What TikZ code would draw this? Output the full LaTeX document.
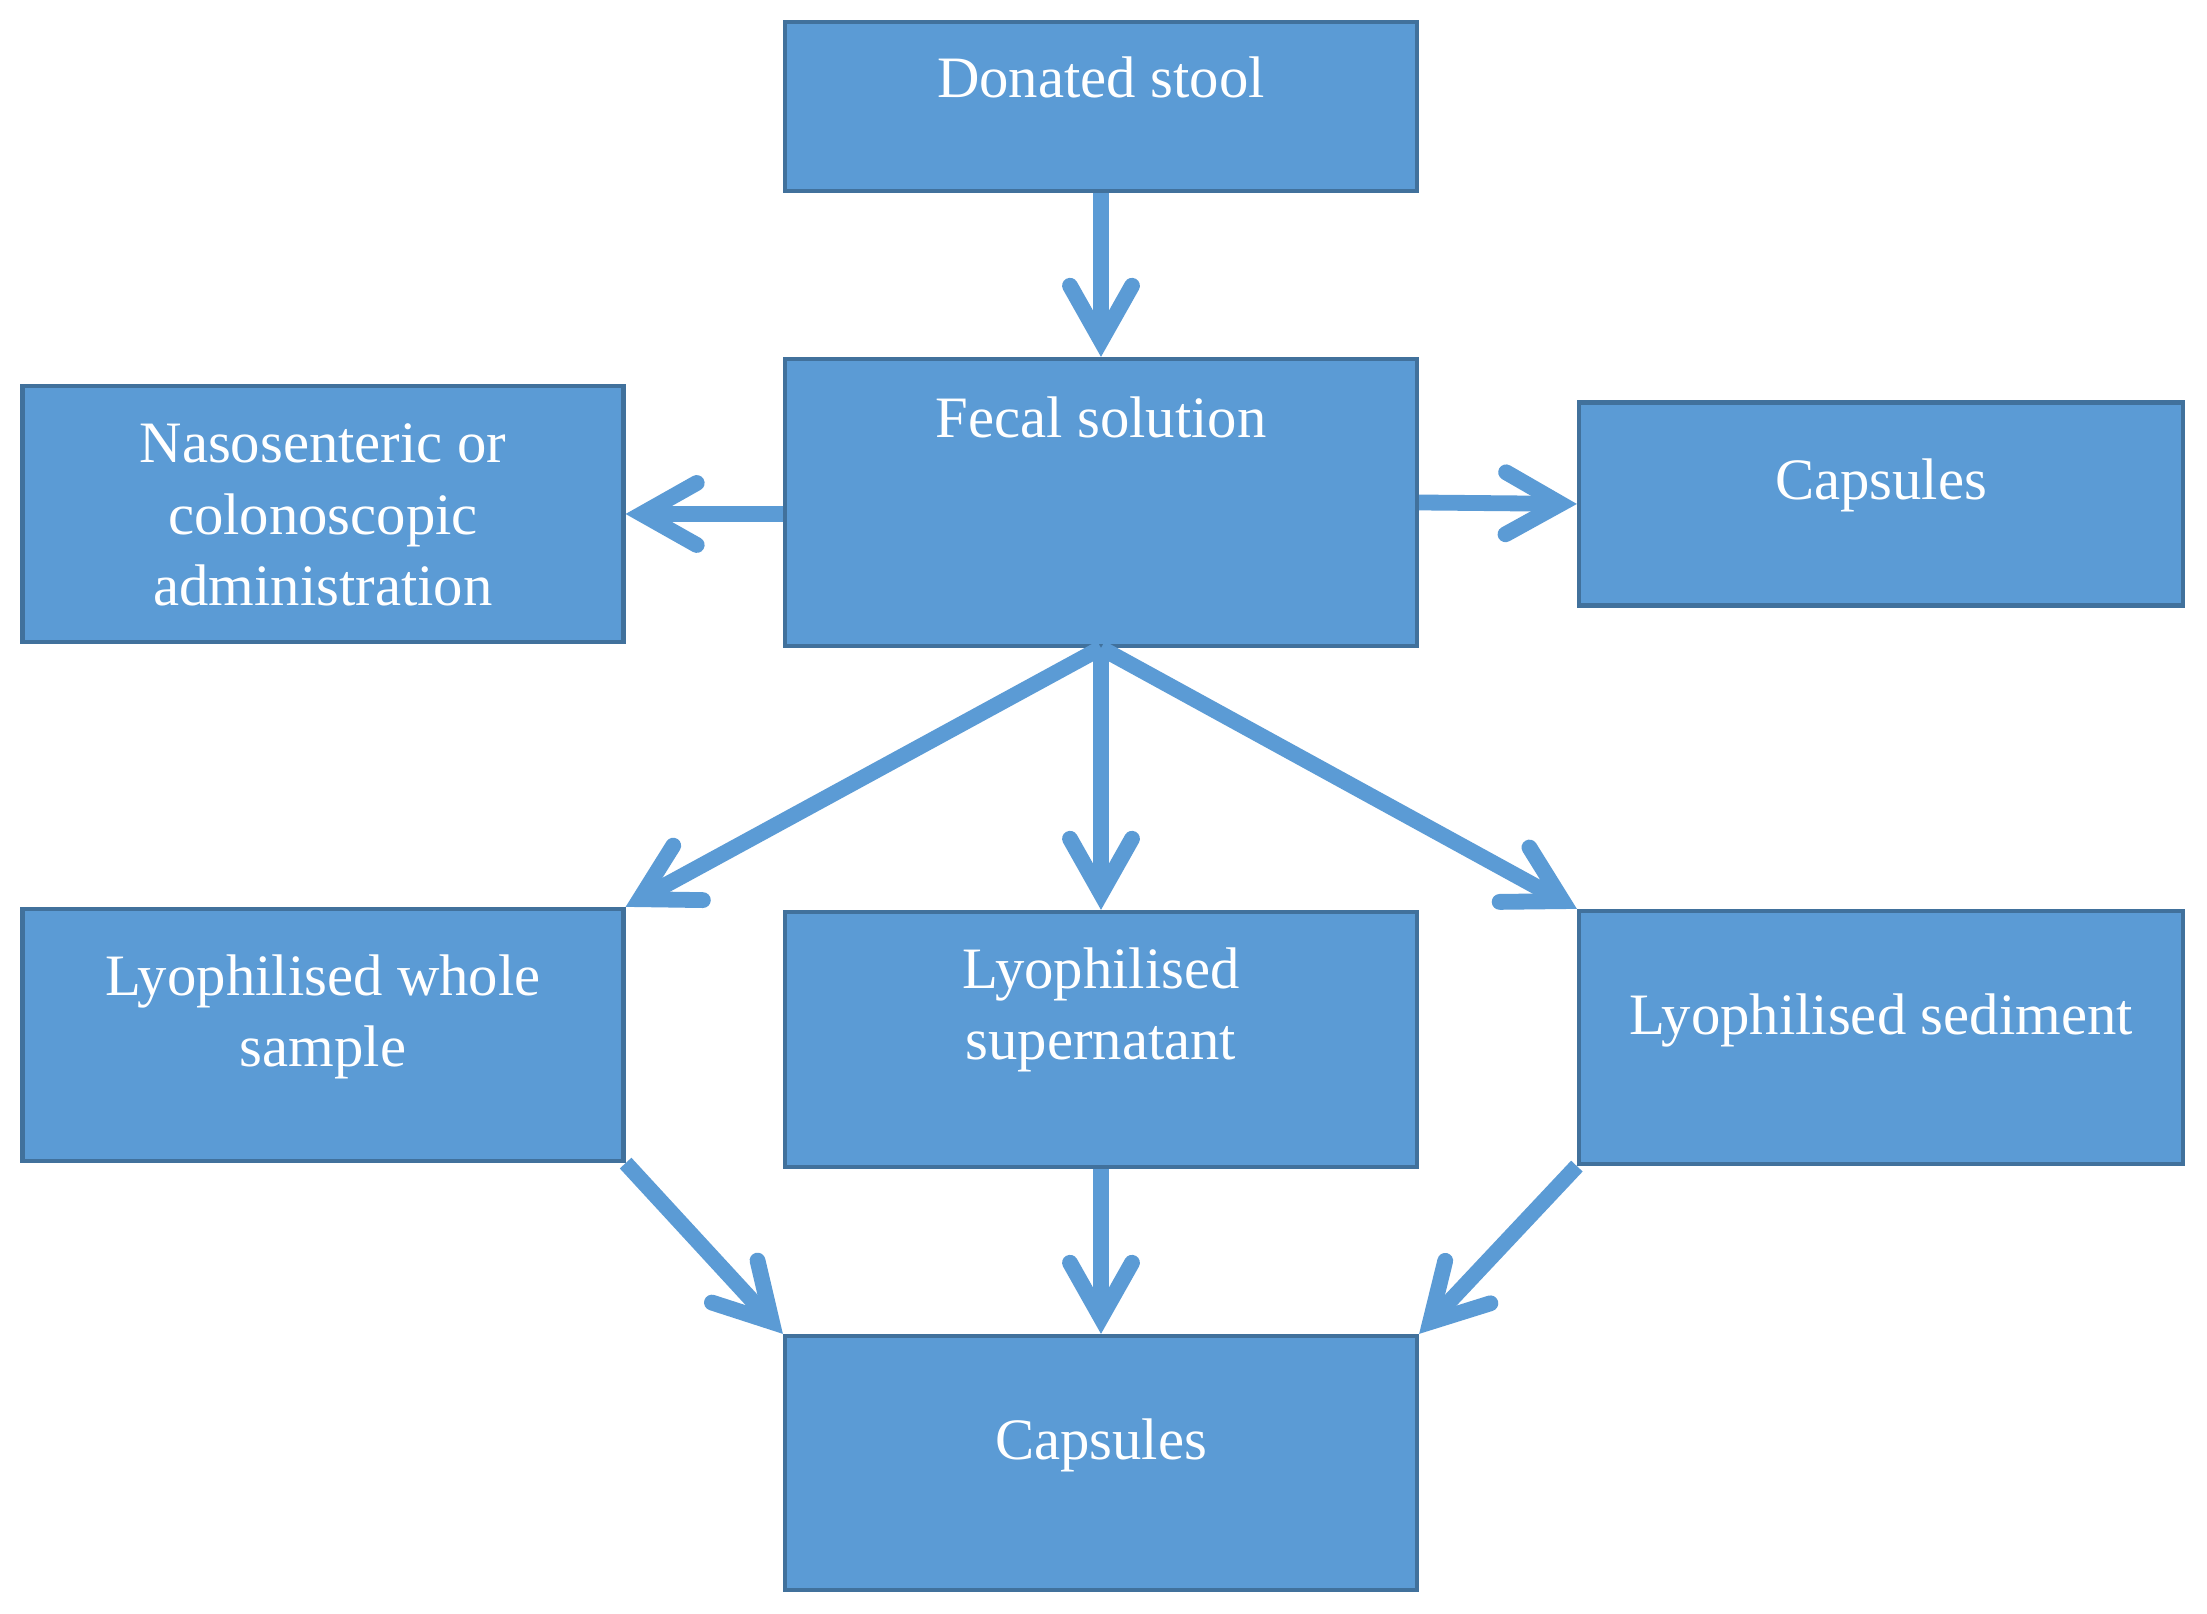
\documentclass[tikz,border=0pt]{standalone}
\usepackage{fontspec}
\setmainfont{Liberation Serif}
\usetikzlibrary{arrows.meta}
\definecolor{boxfill}{HTML}{5B9BD5}
\definecolor{boxline}{HTML}{41719C}
\begin{document}
\begin{tikzpicture}[
	cell/.style={
		rectangle,
		draw=boxline,
		fill=boxfill,
		line width=1.2pt,
		inner sep=0pt,
	},
	txt/.style={% white text inside the boxes, placed at the last baseline
		text=white,
		align=center,
		anchor=base,
		inner sep=0pt,
		font=\fontsize{16.7}{20.4}\selectfont,
	},
	ArrowC1/.style={% thick arrows with open heads
		draw=boxfill,
		line width=4.5pt,
		-{Straight Barb[length=0.55cm, width=0.62cm, line cap=round, line join=miter]},
	},
]
	\path [fill=white] (0,0) rectangle (22.07,16.14);
	\useasboundingbox (0,0) rectangle (22.07,16.14);

	\node [cell, minimum width=6.32cm, minimum height=1.69cm] (stool) at (11.01,15.075) {};
	\node [cell, minimum width=6.32cm, minimum height=2.87cm] (fecal) at (11.01,11.115) {};
	\node [cell, minimum width=6.01cm, minimum height=2.56cm] (naso) at (3.23,11.00) {};
	\node [cell, minimum width=6.04cm, minimum height=2.03cm] (capsR) at (18.81,11.10) {};
	\node [cell, minimum width=6.01cm, minimum height=2.52cm] (whole) at (3.23,5.79) {};
	\node [cell, minimum width=6.32cm, minimum height=2.55cm] (super) at (11.01,5.745) {};
	\node [cell, minimum width=6.04cm, minimum height=2.53cm] (sed) at (18.81,5.765) {};
	\node [cell, minimum width=6.32cm, minimum height=2.54cm] (capsB) at (11.01,1.51) {};

	\node [txt] (stool-t) at (11.01,15.16) {Donated stool};
	\node [txt] (fecal-t) at (11.01,11.76) {Fecal solution};
	\node [txt] (naso-t) at (3.23,10.08) {Nasosenteric or\\colonoscopic\\administration};
	\node [txt] (capsR-t) at (18.81,11.14) {Capsules};
	\node [txt] (whole-t) at (3.23,5.47) {Lyophilised whole\\sample};
	\node [txt] (super-t) at (11.01,5.54) {Lyophilised\\supernatant};
	\node [txt] (sed-t) at (18.81,5.795) {Lyophilised sediment};
	\node [txt] (capsB-t) at (11.01,1.54) {Capsules};

	\draw [ArrowC1] (stool.south) -- (fecal.north);
	\draw [ArrowC1] (fecal.west |- naso.east) -- (naso.east);
	\draw [ArrowC1] (fecal.east) -- (capsR.west);
	\draw [ArrowC1] (fecal.south) -- (whole.north east);
	\draw [ArrowC1] (fecal.south) -- (super.north);
	\draw [ArrowC1] (fecal.south) -- (sed.north west);
	\draw [ArrowC1] (whole.south east) -- (capsB.north west);
	\draw [ArrowC1] (super.south) -- (capsB.north);
	\draw [ArrowC1] (sed.south west) -- (capsB.north east);
\end{tikzpicture}
\end{document}
